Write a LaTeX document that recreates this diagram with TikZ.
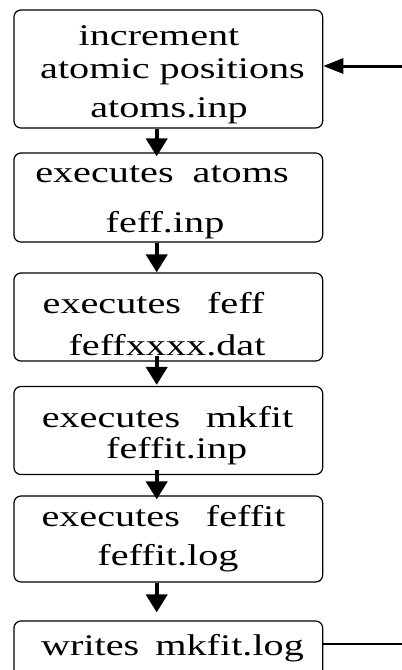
\documentclass[tikz,border=0pt]{standalone}
\usepackage{fontspec}
\setmainfont{Liberation Serif}[FakeStretch=1.34]
\usetikzlibrary{arrows.meta}

\tikzset{
  stepbox/.style={draw, rounded corners=7pt, line width=1.2pt, minimum width=308.7pt, inner sep=0pt},
  lbl/.style={anchor=base, inner sep=0pt, font=\fontsize{30}{36}\selectfont},
  flow/.style={-{Triangle[length=18pt,width=21pt]}, line width=4pt},
  back/.style={line width=3pt},
}

\begin{document}
\begin{tikzpicture}[x=1pt,y=-1pt]
		\useasboundingbox (0,0) rectangle (402,670);
		\clip (0,0) rectangle (402,670);
		% boxes
		\node[stepbox, minimum height=118pt] (incr) at (168.3,69) {};
		\node[stepbox, minimum height=89pt] (atoms) at (168.3,197.5) {};
		\node[stepbox, minimum height=88pt] (feff) at (168.3,317) {};
		\node[stepbox, minimum height=88pt] (mkfit) at (168.3,430.5) {};
		\node[stepbox, minimum height=86pt] (feffit) at (168.3,539) {};
		\node[stepbox, minimum height=89pt] (wlog) at (168.3,665.5) {};
		% texts
		\node[lbl] (incr1) at (159,45) {increment};
		\node[lbl] (incr2) at (172.5,78) {atomic positions};
		\node[lbl] (incr3) at (169,117) {atoms.inp};
		\node[lbl] (atoms1) at (162,182) {executes\hspace{19pt}atoms};
		\node[lbl] (atoms2) at (165,232) {feff.inp};
		\node[lbl] (feff1) at (153.5,313) {executes\hspace{26pt}feff};
		\node[lbl] (feff2) at (167,355) {feffxxxx.dat};
		\node[lbl] (mkfit1) at (167.5,427) {executes\hspace{26pt}mkfit};
		\node[lbl] (mkfit2) at (176.7,458) {feffit.inp};
		\node[lbl] (feffit1) at (163.5,526) {executes\hspace{26pt}feffit};
		\node[lbl] (feffit2) at (168,565) {feffit.log};
		\node[lbl] (wlog1) at (172.5,655) {writes\hspace{16pt}mkfit.log};
		% connectors
		\coordinate (ax) at (156.7,0);
		\coordinate (loopin) at (402,66);
		\coordinate (loopout) at (402,644);
		\draw[flow] (incr.south -| ax) -- ([yshift=-4pt]atoms.north -| ax);
		\draw[flow] (atoms.south -| ax) -- (feff.north -| ax);
		\draw[flow] ([yshift=6pt]feff.south -| ax) -- ([yshift=1pt]mkfit.north -| ax);
		\draw[flow] ([yshift=5pt]mkfit.south -| ax) -- ([yshift=-4pt]feffit.north -| ax);
		\draw[flow] (feffit.south -| ax) -- ([yshift=8pt]wlog.north -| ax);
		\draw[back, -{Triangle[length=20pt,width=15pt]}] (loopin) -- (loopin -| incr.east);
		\draw[line width=2.2pt] (loopout -| wlog.east) -- (loopout);
	\end{tikzpicture}
\end{document}
